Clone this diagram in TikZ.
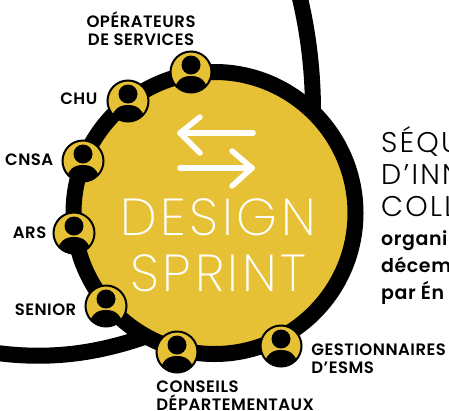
\documentclass[tikz,border=0pt]{standalone}
\usepackage{fontspec}
\setmainfont{Poppins}
\newfontfamily\lightfont[LetterSpace=8]{Poppins Light}
\newfontfamily\titlefont[LetterSpace=7]{Poppins ExtraLight}
\newfontfamily\mediumfont[LetterSpace=3]{Poppins SemiBold}
\usetikzlibrary{positioning}
\definecolor{jaune}{HTML}{E6C136}
\tikzset{
    rond/.style={
           circle,
           draw=black,
           fill=jaune,
           line width=16pt,
           minimum size=282pt,
           inner sep=0pt},
    lien/.style={
           draw=black,
           line width=16pt},
    fleche/.style={
           draw=white,
           line width=5.5pt,
           line cap=round,
           line join=round},
    perso/.style={
           circle,
           draw=black,
           fill=jaune,
           line width=2pt,
           minimum size=41pt,
           inner sep=0pt},
    etiq/.style={
           font=\mediumfont\fontsize{16.5}{18}\selectfont,
           align=center,
           inner sep=0pt},
    titre/.style={
           font=\titlefont\fontsize{52}{62}\selectfont,
           text=white,
           inner sep=0pt},
    seq/.style={
           font=\lightfont\fontsize{28.5}{32}\selectfont,
           align=left,
           inner sep=0pt},
    orga/.style={
           font=\mediumfont\fontsize{19}{27}\selectfont,
           align=left,
           inner sep=0pt},
    personne/.pic={
           \fill[black] (0,-7) circle (9.5pt);
           \begin{scope}
           \clip (0,0) circle (20pt);
           \fill[black] (-18,24) .. controls (-16,7) and (-8,4) .. (0,4) .. controls (8,4) and (16,7) .. (18,24) -- cycle;
           \end{scope}
    }
}

\begin{document}
\begin{tikzpicture}[x=1pt,y=-1pt]
        \useasboundingbox (0,0) rectangle (449,410);

        \coordinate (hautA) at (298,-10);
        \coordinate (hautB) at (313,112);
        \coordinate (basA) at (-10,352);
        \coordinate (basB) at (150,335);
        \draw[lien] (hautA) .. controls (308,30) and (313,70) .. (hautB);
        \draw[lien] (basA) .. controls (50,361) and (100,353) .. (basB);

        \node[rond] (design) at (214.5,213) {};

        \coordinate (a1) at (253,133);
        \coordinate (a2) at (180,133);
        \coordinate (a3) at (200,117);
        \coordinate (a4) at (200,153);
        \coordinate (b1) at (180,168);
        \coordinate (b2) at (252,168);
        \coordinate (b3) at (232,151);
        \coordinate (b4) at (232,186);
        \draw[fleche] (a1) -- (a2);
        \draw[fleche] (a3) -- (a2) -- (a4);
        \draw[fleche] (b1) -- (b2);
        \draw[fleche] (b3) -- (b2) -- (b4);

        \node[titre] (mot1) at (218,217.5) {DESIGN};
        \node[titre] (mot2) at (218.5,273.5) {SPRINT};

        \node[perso] (ope) at (191,72) {};
        \node[perso] (chu) at (128,101) {};
        \node[perso] (cnsa) at (83,161) {};
        \node[perso] (ars) at (74,233) {};
        \node[perso] (senior) at (106,306) {};
        \node[perso] (cd) at (177,352) {};
        \node[perso] (gest) at (281,346) {};

        \foreach \p in {ope,chu,cnsa,ars,senior,cd,gest}
            \pic at (\p) {personne};

        \node[etiq, above left=11pt and -20pt of ope] (lope) {OPÉRATEURS\\DE SERVICES};
        \node[etiq, left=9pt of chu, yshift=2pt] (lchu) {CHU};
        \node[etiq, left=8pt of cnsa, yshift=1pt] (lcnsa) {CNSA};
        \node[etiq, left=6pt of ars] (lars) {ARS};
        \node[etiq, left=8pt of senior, yshift=-4pt] (lsenior) {SENIOR};
        \node[etiq, align=left, below right=13pt and -36pt of cd] (lcd) {CONSEILS\\DÉPARTEMENTAUX};
        \node[etiq, align=left, below right=-18pt and 15pt of gest] (lgest) {GESTIONNAIRES\\D’ESMS};

        \node[seq, anchor=north west] (lseq) at (381,126) {SÉQU\\D’INN\\COLL};
        \node[orga, anchor=north west] (lorga) at (381,230) {organi\\décem\\par Én};
\end{tikzpicture}
\end{document}
